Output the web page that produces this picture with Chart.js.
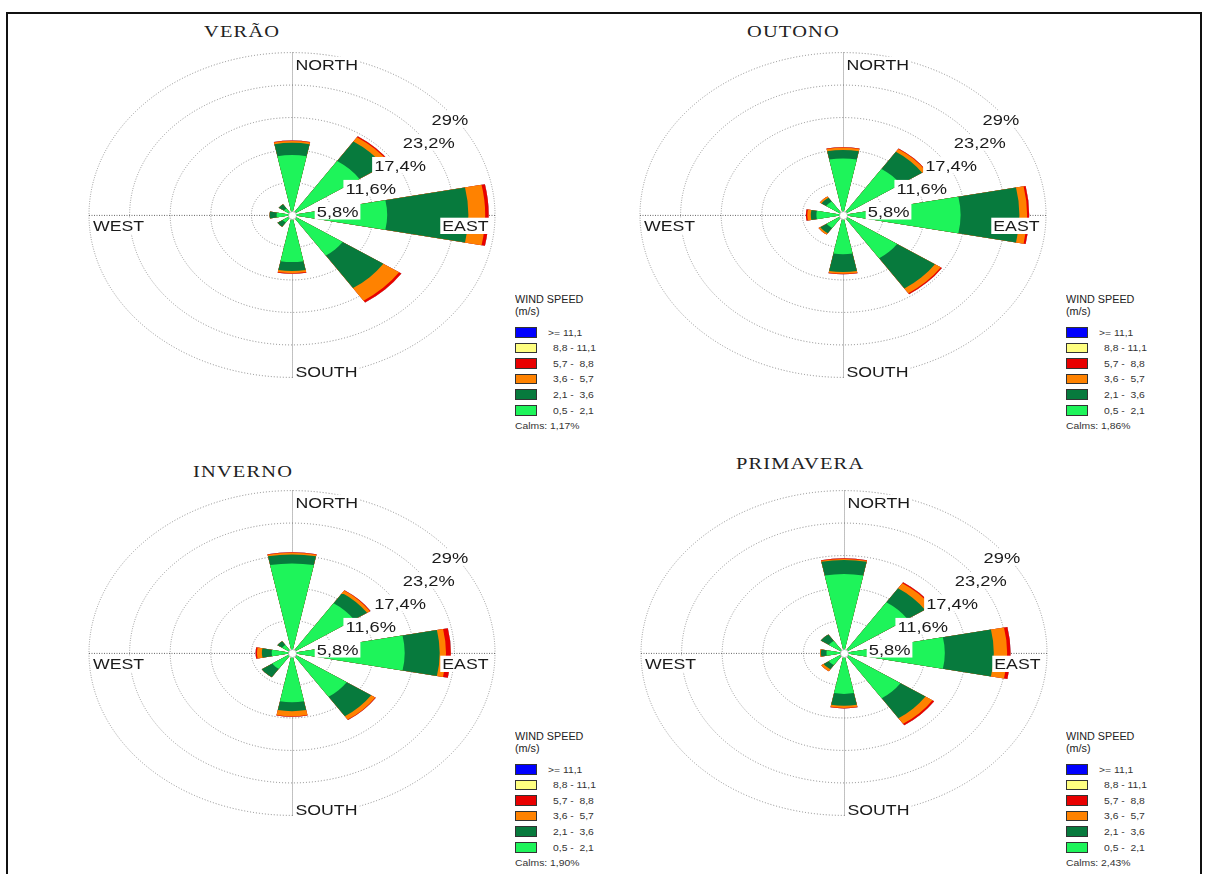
<!DOCTYPE html>
<html><head><meta charset="utf-8">
<script src="https://cdn.jsdelivr.net/npm/chart.js@4.4.1/dist/chart.umd.min.js"></script>
<style>
html,body{margin:0;padding:0;background:#fff;}
body{width:1206px;height:874px;position:relative;overflow:hidden;font-family:"Liberation Sans",Arial,sans-serif;}
#frame{position:absolute;left:6px;top:12px;width:1192px;height:900px;border:2px solid #111;border-bottom:none;}
canvas{position:absolute;}
.title{position:absolute;font-family:"Liberation Serif","Times New Roman",serif;font-size:17px;line-height:17px;letter-spacing:1px;color:#222;transform:scaleX(1.2);transform-origin:0 0;white-space:nowrap;}
.lg{position:absolute;font-size:9px;line-height:10px;color:#333;white-space:pre;transform:scaleX(1.15);transform-origin:0 50%;}
.lgh{position:absolute;font-size:10px;line-height:11.5px;color:#222;white-space:pre;transform:scaleX(1.08);transform-origin:0 0;}
.sw{position:absolute;width:20px;height:8.5px;border:1px solid #333;}
</style></head>
<body>
<div id="frame"></div>
<script>
// ---------- data ----------
const DIRECTIONS = ['N','NE','E','SE','S','SW','W','NW'];
const SECTORS16 = ['N','NNE','NE','ENE','E','ESE','SE','SSE','S','SSW','SW','WSW','W','WNW','NW','NNW'];
const RING_TICKS = [5.8, 11.6, 17.4, 23.2, 29];
const RING_LABELS = ['5,8%','11,6%','17,4%','23,2%','29%'];
const SPEED_CLASSES = ['0,5 -  2,1','2,1 -  3,6','3,6 -  5,7','5,7 -  8,8','8,8 - 11,1','>= 11,1'];
const CLASS_COLORS = ['#1ef45a','#077a3d','#ff8200','#e80000','#ffff80','#0000ff'];
const SEASONS = ['VERÃO','OUTONO','INVERNO','PRIMAVERA'];
const CALMS = ['1,17%','1,86%','1,90%','2,43%'];

// VERÃO (frequency %, by direction N..NW)
const VERAO_05_21 = [10.7, 11.6, 13.6, 8.7, 8.4, 1.6, 2.2, 1.4];
const VERAO_21_36 = [2.2, 4.2, 11.6, 7.0, 1.6, 0.9, 1.0, 0.9];
const VERAO_36_57 = [0.3, 0.9, 2.4, 2.7, 0.4, 0, 0, 0];
const VERAO_57_88 = [0.1, 0.2, 0.5, 0.4, 0.1, 0, 0, 0];
const VERAO_88_111 = [0, 0, 0, 0, 0, 0, 0, 0];
const VERAO_GE_111 = [0, 0, 0, 0, 0, 0, 0, 0];

// OUTONO
const OUTONO_05_21 = [10.1, 9.9, 16.8, 9.3, 7.0, 2.8, 3.8, 2.9];
const OUTONO_21_36 = [1.5, 3.7, 8.4, 6.5, 3.2, 1.1, 0.8, 0.8];
const OUTONO_36_57 = [0.4, 0.6, 1.1, 1.0, 0.3, 0.3, 0.5, 0.3];
const OUTONO_57_88 = [0.1, 0.1, 0.3, 0.2, 0.1, 0, 0.2, 0];
const OUTONO_88_111 = [0, 0, 0, 0, 0, 0, 0, 0];
const OUTONO_GE_111 = [0, 0, 0, 0, 0, 0, 0, 0];

// INVERNO
const INVERNO_05_21 = [16.0, 10.7, 16.1, 9.4, 8.8, 3.4, 2.9, 1.7];
const INVERNO_21_36 = [1.6, 2.2, 5.0, 4.2, 1.6, 1.8, 1.4, 0.8];
const INVERNO_36_57 = [0.3, 0.5, 0.9, 0.7, 0.9, 0, 0.7, 0];
const INVERNO_57_88 = [0.1, 0.1, 0.7, 0.1, 0.1, 0, 0.2, 0];
const INVERNO_88_111 = [0, 0, 0, 0, 0, 0, 0, 0];
const INVERNO_GE_111 = [0, 0, 0, 0, 0, 0, 0, 0];

// PRIMAVERA
const PRIMAVERA_05_21 = [14.1, 10.9, 14.4, 9.7, 7.3, 2.6, 2.5, 2.6];
const PRIMAVERA_21_36 = [2.5, 3.0, 7.0, 4.3, 2.1, 0.9, 0.8, 1.4];
const PRIMAVERA_36_57 = [0.2, 1.1, 1.9, 1.2, 0.4, 0.4, 0.1, 0];
const PRIMAVERA_57_88 = [0.1, 0.2, 0.5, 0.3, 0.1, 0, 0, 0];
const PRIMAVERA_88_111 = [0, 0, 0, 0, 0, 0, 0, 0];
const PRIMAVERA_GE_111 = [0, 0, 0, 0, 0, 0, 0, 0];

const SEASON_DATA = [
  [VERAO_05_21, VERAO_21_36, VERAO_36_57, VERAO_57_88, VERAO_88_111, VERAO_GE_111],
  [OUTONO_05_21, OUTONO_21_36, OUTONO_36_57, OUTONO_57_88, OUTONO_88_111, OUTONO_GE_111],
  [INVERNO_05_21, INVERNO_21_36, INVERNO_36_57, INVERNO_57_88, INVERNO_88_111, INVERNO_GE_111],
  [PRIMAVERA_05_21, PRIMAVERA_21_36, PRIMAVERA_36_57, PRIMAVERA_57_88, PRIMAVERA_88_111, PRIMAVERA_GE_111]
];

// ---------- layout ----------
const LAYOUT = [
  {cl: 87,  ct: 12,  tl: 204, tt: 22.5, ll: 515,  lt: 0},
  {cl: 638, ct: 12,  tl: 747, tt: 23,   ll: 1066, lt: 0},
  {cl: 87,  ct: 450, tl: 193, tt: 463,  ll: 515,  lt: 437},
  {cl: 639, ct: 450, tl: 736, tt: 455,  ll: 1066, lt: 437}
];
const SY = 0.8;       // vertical squash of the rose (ellipse)
const TEXT_SX = 1.18; // horizontal stretch of the text

function boxText(ctx, text, x, y, size, align) {
  ctx.save();
  ctx.font = size + 'px "Liberation Sans", Arial, sans-serif';
  const w = ctx.measureText(text).width * TEXT_SX;
  const left = align === 'right' ? x - w : x;
  const capH = size * 0.72;
  ctx.fillStyle = '#fff';
  ctx.fillRect(left - 2, y - capH - 2.5, w + 4, capH + 5.5);
  ctx.translate(left, y);
  ctx.scale(TEXT_SX, 1);
  ctx.fillStyle = '#1a1a1a';
  ctx.textBaseline = 'alphabetic';
  ctx.textAlign = 'left';
  ctx.fillText(text, 0, 0);
  ctx.restore();
}

const rosePlugin = {
  id: 'rose',
  beforeDraw(chart) {
    const s = chart.scales.r, ctx = chart.ctx;
    ctx.save();
    ctx.translate(s.xCenter, s.yCenter);
    ctx.scale(1, SY);
    ctx.translate(-s.xCenter, -s.yCenter);
  },
  beforeDatasetsDraw(chart) {
    const s = chart.scales.r, ctx = chart.ctx, R = s.drawingArea;
    ctx.save();
    ctx.strokeStyle = '#555';
    ctx.lineWidth = 1;
    ctx.setLineDash([1, 1.5]);
    ctx.beginPath();
    ctx.moveTo(s.xCenter - R, s.yCenter + 0.5); ctx.lineTo(s.xCenter + R, s.yCenter + 0.5);
    ctx.moveTo(s.xCenter + 0.5, s.yCenter - R); ctx.lineTo(s.xCenter + 0.5, s.yCenter + R);
    ctx.stroke();
    ctx.restore();
  },
  afterDatasetsDraw(chart) {
    chart.ctx.restore();
  },
  afterDraw(chart) {
    const s = chart.scales.r, ctx = chart.ctx, R = s.drawingArea;
    const cx = s.xCenter, cy = s.yCenter, ry = R * SY;
    // calms circle
    ctx.save();
    ctx.beginPath();
    ctx.arc(cx + 0.5, cy + 0.5, 4, 0, Math.PI * 2);
    ctx.fillStyle = '#fff'; ctx.fill();
    ctx.strokeStyle = '#999'; ctx.lineWidth = 0.6; ctx.stroke();
    ctx.restore();
    // ring labels
    RING_TICKS.forEach((v, i) => {
      const d = s.getDistanceFromCenterForValue(v);
      const x = cx + d * Math.SQRT1_2 - 4;
      const y = cy - SY * d * Math.SQRT1_2 + 19 + 5.5;
      boxText(ctx, RING_LABELS[i], x, y, 15.5, 'left');
    });
    // direction labels
    boxText(ctx, 'NORTH', cx + 3.5, cy - ry + 17.5, 15, 'left');
    boxText(ctx, 'SOUTH', cx + 3.5, cy + ry, 15, 'left');
    boxText(ctx, 'WEST', cx - R + 4, cy + 16, 15, 'left');
    boxText(ctx, 'EAST', cx + R - 6.5, cy + 16, 15, 'right');
  }
};

function buildDatasets(classes) {
  const datasets = [];
  const cum = DIRECTIONS.map(() => 0);
  classes.forEach((arr, k) => {
    arr.forEach((v, j) => { cum[j] += v; });
    const data16 = [];
    DIRECTIONS.forEach((d, j) => { data16.push(cum[j]); data16.push(0); });
    datasets.push({
      label: SPEED_CLASSES[k],
      data: data16,
      backgroundColor: CLASS_COLORS[k],
      borderWidth: 0
    });
  });
  return datasets;
}

function addLegend(L, T, calms) {
  const h = document.createElement('div');
  h.className = 'lgh';
  h.style.left = L + 'px'; h.style.top = (T + 294) + 'px';
  h.textContent = 'WIND SPEED\n(m/s)';
  document.body.appendChild(h);
  const order = [5, 4, 3, 2, 1, 0];
  order.forEach((k, r) => {
    const top = T + 327 + r * 15.6;
    const sw = document.createElement('div');
    sw.className = 'sw';
    sw.style.left = L + 'px'; sw.style.top = top + 'px';
    sw.style.background = CLASS_COLORS[k];
    document.body.appendChild(sw);
    const t = document.createElement('div');
    t.className = 'lg';
    t.style.left = (L + (k === 5 ? 33 : 37.5)) + 'px';
    t.style.top = (top + 0.5) + 'px';
    t.textContent = SPEED_CLASSES[k];
    document.body.appendChild(t);
  });
  const c = document.createElement('div');
  c.className = 'lg';
  c.style.left = L + 'px'; c.style.top = (T + 421) + 'px';
  c.textContent = 'Calms: ' + calms;
  document.body.appendChild(c);
}

SEASONS.forEach((name, p) => {
  const lay = LAYOUT[p];
  const title = document.createElement('div');
  title.className = 'title';
  title.style.left = lay.tl + 'px'; title.style.top = lay.tt + 'px';
  title.textContent = name;
  document.body.appendChild(title);

  const cv = document.createElement('canvas');
  cv.width = 410; cv.height = 406;
  cv.style.left = lay.cl + 'px'; cv.style.top = lay.ct + 'px';
  document.body.appendChild(cv);

  new Chart(cv.getContext('2d'), {
    type: 'polarArea',
    data: { labels: SECTORS16, datasets: buildDatasets(SEASON_DATA[p]) },
    options: {
      responsive: false,
      animation: false,
      events: [],
      layout: { padding: 0 },
      plugins: { legend: { display: false }, tooltip: { enabled: false } },
      scales: {
        r: {
          min: 0, max: 29,
          startAngle: -11.25,
          afterBuildTicks: (scale) => { scale.ticks = [0].concat(RING_TICKS).map(v => ({ value: v })); },
          ticks: { display: false },
          grid: { circular: true, color: '#7c7c7c', lineWidth: 1, borderDash: [1, 2] },
          border: { dash: [1, 2] },
          angleLines: { display: false },
          pointLabels: { display: false }
        }
      }
    },
    plugins: [rosePlugin]
  });

  addLegend(lay.ll, lay.lt, CALMS[p]);
});
</script>
</body></html>
